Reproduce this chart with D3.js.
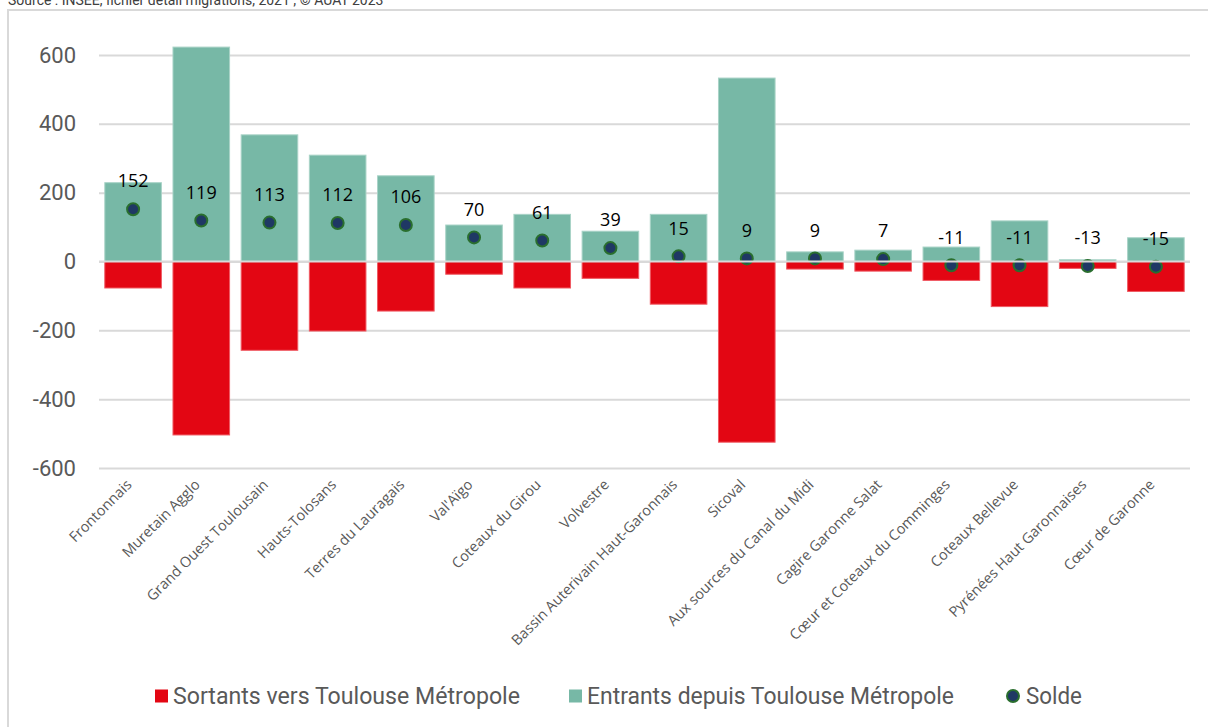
<!DOCTYPE html>
<html>
<head>
<meta charset="utf-8">
<script src="https://cdn.jsdelivr.net/npm/d3@7"></script>
<style>
  body { margin: 0; background: #fff; }
  svg { display: block; font-family: Roboto, "Open Sans", sans-serif; }
</style>
</head>
<body>
<svg></svg>
<script>
// EPCI names (x axis)
let categories = [
    'Frontonnais', 'Muretain Agglo', 'Grand Ouest Toulousain', 'Hauts-Tolosans',
    'Terres du Lauragais', "Val'Aïgo", 'Coteaux du Girou', 'Volvestre',
    'Bassin Auterivain Haut-Garonnais', 'Sicoval', 'Aux sources du Canal du Midi',
    'Cagire Garonne Salat', 'Cœur et Coteaux du Comminges', 'Coteaux Bellevue',
    'Pyrénées Haut Garonnaises', 'Cœur de Garonne'
];
// Entrants depuis Toulouse Métropole
let entrants = [229, 623, 368, 309, 249, 106, 137, 88, 137, 533, 28, 33, 42, 118, 5, 69];
// Sortants vers Toulouse Métropole (negative)
let sortants = [-77, -504, -258, -202, -144, -37, -77, -49, -124, -525, -22, -28, -55, -131, -20, -87];
// Solde
let solde = [152, 119, 113, 112, 106, 70, 61, 39, 15, 9, 9, 7, -11, -11, -13, -15];
let yTicks = [-600, -400, -200, 0, 200, 400, 600];

let width = 1208;
let height = 727;

let colRed = '#e30613';
let colGreen = '#77b8a6';
let colDot = '#1f3864';
let colDotStroke = '#2a6e2e';

let svg = d3.select('svg')
    .attr('width', width)
    .attr('height', height);

// source line, cut at the top of the picture
svg.append('text')
    .attr('x', 8)
    .attr('y', 5)
    .attr('font-size', 14)
    .attr('fill', '#404040')
    .text('Source : INSEE, fichier détail migrations, 2021 ; © AUAT 2023');

// frame around the chart
svg.append('rect')
    .attr('x', 8)
    .attr('y', 10)
    .attr('width', 1220)
    .attr('height', 740)
    .attr('fill', 'none')
    .attr('stroke', '#d9d9d9')
    .attr('stroke-width', 2);

let x = d3.scaleBand()
    .domain(categories)
    .range([99, 1190])
    .paddingInner(0.17)
    .paddingOuter(0.085);

let y = d3.scaleLinear()
    .domain([-600, 600])
    .range([468, 55]);

// gridlines + tick labels
let yAxis = svg.append('g')
    .attr('transform', 'translate(99,0)')
    .call(d3.axisLeft(y).tickValues(yTicks).tickSize(-(1190 - 99)).tickPadding(23).tickFormat(d => String(d)));
yAxis.select('.domain').remove();
yAxis.selectAll('.tick line').attr('stroke', '#d9d9d9').attr('stroke-width', 2);
yAxis.selectAll('.tick text')
    .attr('fill', '#595959')
    .attr('font-size', 22)
    .attr('font-family', 'Roboto, sans-serif');

// bars
let groups = svg.append('g').selectAll('g.cat')
    .data(categories)
    .enter()
    .append('g')
    .classed('cat', true);

groups.append('rect')
    .attr('x', d => x(d))
    .attr('width', x.bandwidth())
    .attr('y', (d, i) => y(entrants[i]))
    .attr('height', (d, i) => y(0) - y(entrants[i]))
    .attr('fill', colGreen)
    .attr('stroke', '#a9d3c7')
    .attr('stroke-width', 1);

groups.append('rect')
    .attr('x', d => x(d))
    .attr('width', x.bandwidth())
    .attr('y', y(0))
    .attr('height', (d, i) => y(sortants[i]) - y(0))
    .attr('fill', colRed)
    .attr('stroke', '#ef5a63')
    .attr('stroke-width', 1);

// zero line on top of the bars
svg.append('line')
    .attr('x1', 99).attr('x2', 1190)
    .attr('y1', y(0)).attr('y2', y(0))
    .attr('stroke', '#d9d9d9')
    .attr('stroke-width', 2);

// solde dots and labels
groups.append('circle')
    .attr('cx', d => x(d) + x.bandwidth() / 2)
    .attr('cy', (d, i) => y(solde[i]))
    .attr('r', 6)
    .attr('fill', colDot)
    .attr('stroke', colDotStroke)
    .attr('stroke-width', 2);

groups.append('text')
    .attr('x', d => x(d) + x.bandwidth() / 2)
    .attr('y', (d, i) => y(solde[i]) - 28)
    .attr('dy', '0.35em')
    .attr('text-anchor', 'middle')
    .attr('font-size', 18)
    .attr('font-family', '"Open Sans", sans-serif')
    .attr('fill', '#000')
    .text((d, i) => solde[i]);

// rotated category labels
svg.append('g').selectAll('text')
    .data(categories)
    .enter()
    .append('text')
    .attr('transform', d => `translate(${x(d) + x.bandwidth() / 2 - 4},${482}) rotate(-45)`)
    .attr('text-anchor', 'end')
    .attr('dy', '0.35em')
    .attr('font-size', 14.5)
    .attr('font-family', '"Open Sans", sans-serif')
    .attr('fill', '#595959')
    .text(d => d);

// legend
let legend = [
    { label: 'Sortants vers Toulouse Métropole', color: colRed, type: 'rect', x: 155, w: 347 },
    { label: 'Entrants depuis Toulouse Métropole', color: colGreen, type: 'rect', x: 569, w: 367 },
    { label: 'Solde', color: colDot, type: 'dot', x: 1006, w: 56 }
];
let legendY = 696;
let lg = svg.append('g').selectAll('g')
    .data(legend)
    .enter()
    .append('g');

lg.filter(d => d.type === 'rect')
    .append('rect')
    .attr('x', d => d.x)
    .attr('y', legendY - 6.5)
    .attr('width', 13)
    .attr('height', 13)
    .attr('fill', d => d.color);

lg.filter(d => d.type === 'dot')
    .append('circle')
    .attr('cx', d => d.x + 7)
    .attr('cy', legendY)
    .attr('r', 6)
    .attr('fill', colDot)
    .attr('stroke', colDotStroke)
    .attr('stroke-width', 2);

lg.append('text')
    .attr('x', d => d.x + (d.type === 'dot' ? 20 : 18))
    .attr('y', legendY)
    .attr('dy', '0.35em')
    .attr('font-size', 23)
    .attr('fill', '#595959')
    .attr('textLength', d => d.w)
    .attr('lengthAdjust', 'spacingAndGlyphs')
    .text(d => d.label);
</script>
</body>
</html>
